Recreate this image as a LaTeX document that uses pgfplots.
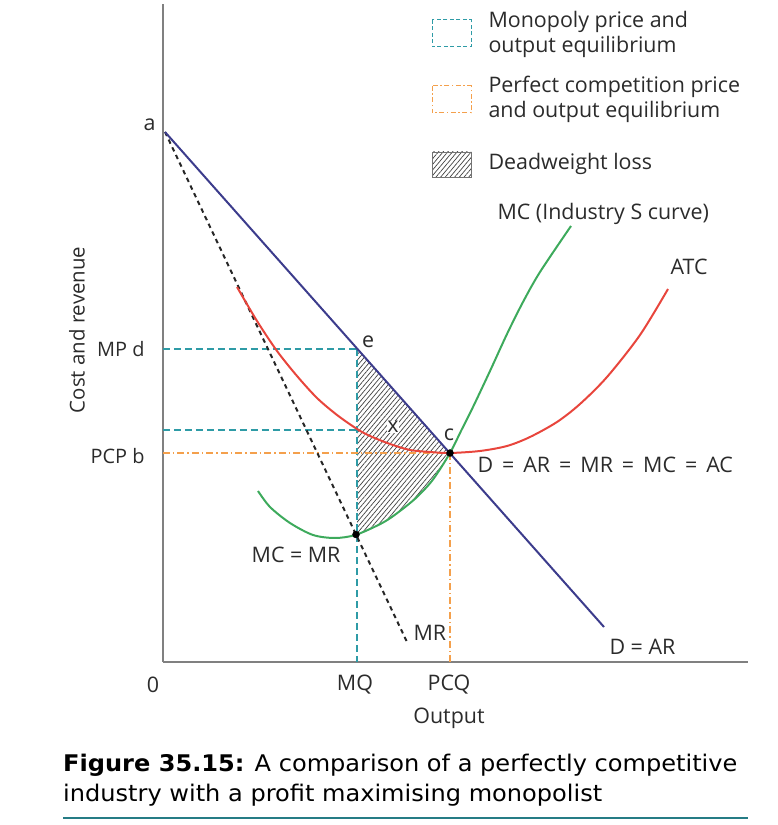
\documentclass[border=0pt]{standalone}
\usepackage{fontspec}
\setmainfont{Open Sans}
\newfontfamily\capfont[FakeStretch=1.05]{DejaVu Sans}
\usepackage{pgfplots}
\pgfplotsset{compat=1.18}
\usetikzlibrary{patterns.meta}
\definecolor{dcol}{HTML}{3C3C8C}
\definecolor{atc}{HTML}{E8453C}
\definecolor{mcc}{HTML}{3DAA5C}
\definecolor{tealc}{HTML}{2E9BA6}
\definecolor{orng}{HTML}{F4A04C}
\definecolor{axg}{HTML}{808080}
\definecolor{txt}{HTML}{2B2B2B}
\newcommand\lf{\fontsize{21.5}{25}\selectfont}
\newcommand\eq{\hspace{0.42em}=\hspace{0.42em}}
\begin{document}
\begin{tikzpicture}[x=1bp,y=1bp,font=\lf,text=txt]
\useasboundingbox (0,0) rectangle (778,825);
\begin{axis}[
  at={(163bp,163bp)}, anchor=south west,
  width=585bp, height=658bp, scale only axis,
  xmin=0, xmax=585, ymin=0, ymax=658,
  axis lines=left, axis line style={-, draw=axg, line width=1.6pt},
  xtick=\empty, ytick=\empty, clip=false,
]
% deadweight loss
\addplot[draw=none, pattern={Lines[angle=50,distance=3.6pt,line width=0.7pt]}, pattern color=black!75]
  coordinates {(194,313) (194,127.5) (207,132.8) (220,139.4) (237,151) (254,165) (270,182.5) (280,196) (287,209)} -- cycle;
% monopoly lines
\addplot[tealc, line width=1.3pt, dash pattern=on 7pt off 4pt] coordinates {(0,313) (194,313)};
\addplot[tealc, line width=1.3pt, dash pattern=on 7pt off 4pt] coordinates {(0,232) (194,232)};
\addplot[tealc, line width=1.3pt, dash pattern=on 7pt off 4pt] coordinates {(194,313) (194,0)};
% perfect competition lines
\addplot[orng, line width=1.3pt, dash pattern=on 7pt off 3pt on 1.5pt off 3pt] coordinates {(0,209) (287,209)};
\addplot[orng, line width=1.3pt, dash pattern=on 7pt off 3pt on 1.5pt off 3pt] coordinates {(287,209) (287,0)};
% MR
\addplot[black!85, line width=2pt, dash pattern=on 4.5pt off 4pt] coordinates {(2,530) (244,20)};
% D = AR
\addplot[dcol, line width=2pt] coordinates {(2,530) (441,35)};
% ATC
\addplot[atc, line width=2pt, smooth] coordinates {
 (74,375) (94,341) (114,311) (134,286) (154,264) (174,247) (194,233) (207,226)
 (227,218) (247,212) (267,210) (287,209) (317,211) (344,216) (367,225) (394,240)
 (417,258) (444,285) (477,327) (505,373)};
% MC
\addplot[mcc, line width=2pt, smooth] coordinates {
 (95,171) (107,155) (127,139) (150,127) (172,124) (193,127.2) (220,139.4) (237,151)
 (254,165) (270,182.5) (287,209) (298,231) (310,255) (327,291) (344,328) (360,360)
 (377,390) (408,436)};
% points
\addplot[only marks, mark=*, mark size=3.5pt, black] coordinates {(193,127.5) (287,209)};
% labels
\node[anchor=east] at (axis cs:-4,537) {a};
\node[anchor=east, font=\fontsize{20}{24}\selectfont] at (axis cs:-15,313) {MP d};
\node[anchor=east, font=\fontsize{20}{24}\selectfont] at (axis cs:-15,206) {PCP b};
\node at (axis cs:205,320) {e};
\node[fill=white, inner sep=0.5pt] at (axis cs:230,235) {x};
\node at (axis cs:286,227) {c};
\node[anchor=west] at (axis cs:311,197) {D\eq AR\eq MR\eq MC\eq AC};
\node[anchor=east] at (axis cs:181,107) {MC = MR};
\node[anchor=west] at (axis cs:247,29) {MR};
\node[anchor=west] at (axis cs:443,15) {D = AR};
\node[anchor=west] at (axis cs:504,395) {ATC};
\node[anchor=west] at (axis cs:331,448) {MC (Industry S curve)};
\node at (axis cs:-10,-23) {0};
\node at (axis cs:192,-23) {MQ};
\node at (axis cs:286,-23) {PCQ};
\node at (axis cs:286,-56) {Output};
\node[rotate=90, font=\fontsize{20.5}{24}\selectfont] at (axis cs:-86,332) {Cost and revenue};
% legend
\draw[tealc, line width=1pt, dash pattern=on 4pt off 2.5pt] (axis cs:269,642) rectangle (axis cs:308,615);
\node[anchor=west, align=left] at (axis cs:322,627.5) {Monopoly price and\\output equilibrium};
\draw[orng, line width=1pt, dash pattern=on 5pt off 2.5pt on 1.5pt off 2.5pt] (axis cs:269,576) rectangle (axis cs:308,549);
\node[anchor=west, align=left] at (axis cs:322,563) {Perfect competition price\\and output equilibrium};
\draw[black!55, line width=0.8pt, pattern={Lines[angle=50,distance=3.6pt,line width=0.7pt]}, pattern color=black!75] (axis cs:269,510) rectangle (axis cs:308,485);
\node[anchor=west] at (axis cs:322,498) {Deadweight loss};
\end{axis}
% caption
\node[anchor=base west, inner sep=0pt, text=black, font=\capfont\fontsize{23}{29}\selectfont] at (63,53) {\textbf{Figure 35.15:} A comparison of a perfectly competitive};
\node[anchor=base west, inner sep=0pt, text=black, font=\capfont\fontsize{23}{29}\selectfont] at (63,23) {industry with a profit maximising monopolist};
\draw[tealc!80!black, line width=1.5pt] (63,7) -- (748,7);
\end{tikzpicture}
\end{document}
